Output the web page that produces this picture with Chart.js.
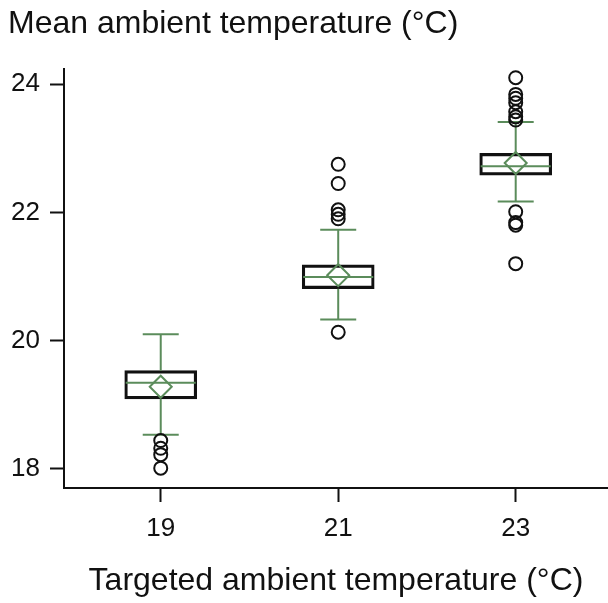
<!DOCTYPE html>
<html>
<head>
<meta charset="utf-8">
<title>Mean vs targeted ambient temperature</title>
<script src="https://cdn.jsdelivr.net/npm/chart.js@4.4.1/dist/chart.umd.min.js"></script>
<style>
  html, body { margin: 0; padding: 0; background: #fff; overflow: hidden; }
  #chart { display: block; }
</style>
</head>
<body>
<canvas id="chart" width="608" height="603"></canvas>
<script>
/* box plot: targeted vs measured ambient temperature */

const GROUPS   = [19, 21, 23];
const Q1       = [19.09, 20.81, 22.58];
const MEDIAN   = [19.34, 20.99, 22.72];
const Q3       = [19.53, 21.18, 22.92];
const MEAN     = [19.28, 21.02, 22.77];
const WHISK_LO = [18.53, 20.33, 22.17];
const WHISK_HI = [20.10, 21.73, 23.41];

const OUTLIERS_19 = [18.44, 18.32, 18.22, 18.01];
const OUTLIERS_21 = [22.75, 22.45, 22.04, 21.97, 21.90, 20.13];
const OUTLIERS_23 = [24.10, 23.84, 23.78, 23.71, 23.57, 23.49, 23.44, 22.01, 21.84, 21.80, 21.20];

const X_TICKS = [19, 21, 23];
const Y_TICKS = [18, 20, 22, 24];

const GREEN = "#5b8c5b";
const INK   = "#111";
const FONT  = "'Liberation Sans', Arial, Helvetica, sans-serif";

const outlierPoints = [
  ...OUTLIERS_19.map(v => ({ x: 19, y: v })),
  ...OUTLIERS_21.map(v => ({ x: 21, y: v })),
  ...OUTLIERS_23.map(v => ({ x: 23, y: v })),
];

// whisker segments, broken by nulls
const whiskerPoints = [];
GROUPS.forEach((g, i) => {
  whiskerPoints.push({ x: g, y: WHISK_HI[i] }, { x: g, y: Q3[i] }, { x: g, y: null });
  whiskerPoints.push({ x: g, y: Q1[i] }, { x: g, y: WHISK_LO[i] }, { x: g, y: null });
});

const capPoints = [
  ...GROUPS.map((g, i) => ({ x: g, y: WHISK_HI[i] })),
  ...GROUPS.map((g, i) => ({ x: g, y: WHISK_LO[i] })),
];

new Chart(document.getElementById("chart"), {
  type: "bar",
  data: {
    datasets: [
      {
        type: "bar",
        data: GROUPS.map((g, i) => ({ x: g, y: [Q1[i], Q3[i]] })),
        backgroundColor: "rgba(0,0,0,0)",
        borderColor: INK,
        borderWidth: 2.5,
        borderSkipped: false,
        barThickness: 72,
        order: 5,
      },
      {
        type: "line",
        data: whiskerPoints,
        borderColor: GREEN,
        borderWidth: 2,
        pointRadius: 0,
        spanGaps: false,
        order: 4,
      },
      {
        type: "scatter",
        data: capPoints,
        pointStyle: "line",
        pointRadius: 18,
        borderColor: GREEN,
        borderWidth: 2,
        order: 3,
      },
      {
        type: "scatter",
        data: GROUPS.map((g, i) => ({ x: g, y: MEDIAN[i] })),
        pointStyle: "line",
        pointRadius: 35,
        borderColor: GREEN,
        borderWidth: 2,
        order: 3,
      },
      {
        type: "scatter",
        data: GROUPS.map((g, i) => ({ x: g, y: MEAN[i] })),
        pointStyle: "rectRot",
        pointRadius: 11,
        borderColor: GREEN,
        backgroundColor: "rgba(0,0,0,0)",
        borderWidth: 2,
        order: 2,
      },
      {
        type: "scatter",
        data: outlierPoints,
        pointStyle: "circle",
        pointRadius: 6.5,
        borderColor: INK,
        backgroundColor: "rgba(0,0,0,0)",
        borderWidth: 2,
        order: 1,
      },
    ]
  },
  options: {
    responsive: false,
    animation: false,
    events: [],
    layout: { autoPadding: false, padding: { left: 8, right: 0, top: 0, bottom: 0 } },
    plugins: {
      legend: { display: false },
      tooltip: { enabled: false },
      title: {
        display: true,
        text: "Mean ambient temperature (°C)",
        align: "start",
        color: INK,
        font: { family: FONT, size: 32, weight: "normal", lineHeight: 1.2 },
        padding: { top: 5, bottom: 26 },
      },
    },
    scales: {
      x: {
        type: "linear",
        min: 17.91,
        max: 24.04,
        offset: false,
        afterBuildTicks: s => { s.ticks = X_TICKS.map(v => ({ value: v })); },
        afterFit: s => { s.height = 115; },
        grid: { display: true, offset: false, drawOnChartArea: false, drawTicks: true, tickLength: 14, tickColor: INK, tickWidth: 2 },
        border: { display: true, color: INK, width: 2 },
        ticks: { color: INK, padding: 11, font: { family: FONT, size: 26 } },
        title: {
          display: true,
          text: "Targeted ambient temperature (°C)",
          color: INK,
          font: { family: FONT, size: 32, lineHeight: 1.2 },
          padding: { top: 0, bottom: 3 },
        },
      },
      y: {
        type: "linear",
        min: 17.70,
        max: 24.23,
        beginAtZero: false,
        afterBuildTicks: s => { s.ticks = Y_TICKS.map(v => ({ value: v })); },
        afterFit: s => { s.width = 56; },
        grid: { display: true, drawOnChartArea: false, drawTicks: true, tickLength: 14, tickColor: INK, tickWidth: 2 },
        border: { display: true, color: INK, width: 2 },
        ticks: { color: INK, padding: 10, font: { family: FONT, size: 26 } },
      },
    },
  },
});
</script>
</body>
</html>
